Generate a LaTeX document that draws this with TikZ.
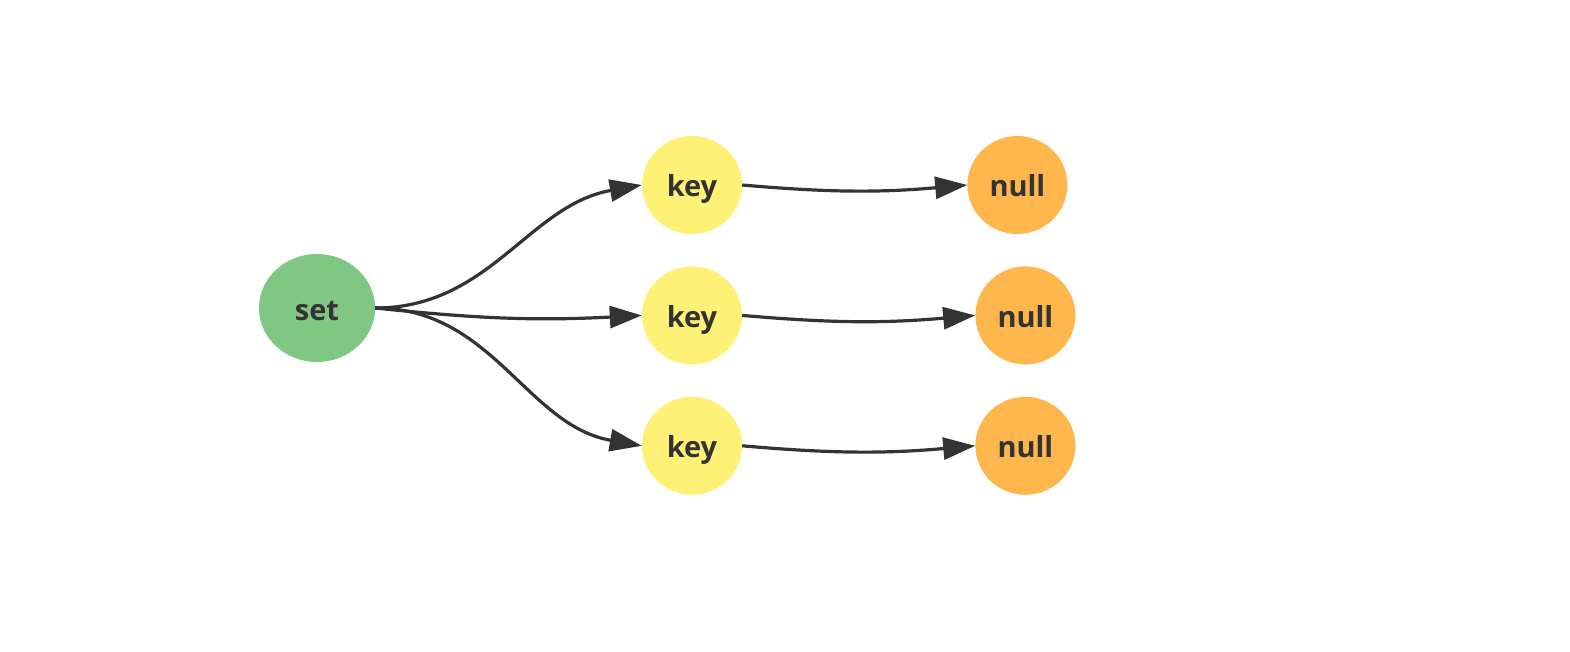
\documentclass[tikz,border=0pt]{standalone}
\usepackage{fontspec}
\setmainfont{Open Sans}
\usetikzlibrary{shapes.geometric}
\usetikzlibrary{positioning}
\usetikzlibrary{arrows.meta}
\definecolor{setgreen}{HTML}{81C784}
\definecolor{keyyellow}{HTML}{FFF176}
\definecolor{nullorange}{HTML}{FFB74D}
\definecolor{darkline}{HTML}{333333}
\tikzset{main node/.style={shape=ellipse, inner sep=0pt,
    font=\fontsize{29}{32}\selectfont\bfseries, text=darkline,
    text height=24pt, text depth=0pt},
  set node/.style={main node, fill=setgreen,
    minimum width=116pt, minimum height=108pt},
  key node/.style={main node, fill=keyyellow,
    minimum width=100pt, minimum height=98pt},
  null node/.style={main node, fill=nullorange,
    minimum width=100pt, minimum height=98pt},
  link/.style={draw=darkline, line width=3.2pt,
    -{Triangle[length=32pt,width=22pt]}}}

\begin{document}
\begin{tikzpicture}[x=1pt,y=1pt]
    \useasboundingbox (0,0) rectangle (1570,-652);

    \node[set node] (1) at (317,-308) {set};

    \node[key node] (2) at (692,-185) {key};
    \node[key node] (3) [below = 32pt of 2] {key};
    \node[key node] (4) [below = 32pt of 3] {key};

    \node[null node] (5) [right = 225pt of 2] {null};
    \node[null node] (6) [right = 233pt of 3] {null};
    \node[null node] (7) [right = 233pt of 4] {null};

    \path
    (1.east) edge[link, out=0, in=190] (2.west)
    (1.east) edge[link, out=-6, in=183] (3.west)
    (1.east) edge[link, out=0, in=170] (4.west)

    (2.east) edge[link, out=-5, in=185] (5.west)
    (3.east) edge[link, out=-5, in=185] (6.west)
    (4.east) edge[link, out=-5, in=185] (7.west)
    ;
\end{tikzpicture}
\end{document}
